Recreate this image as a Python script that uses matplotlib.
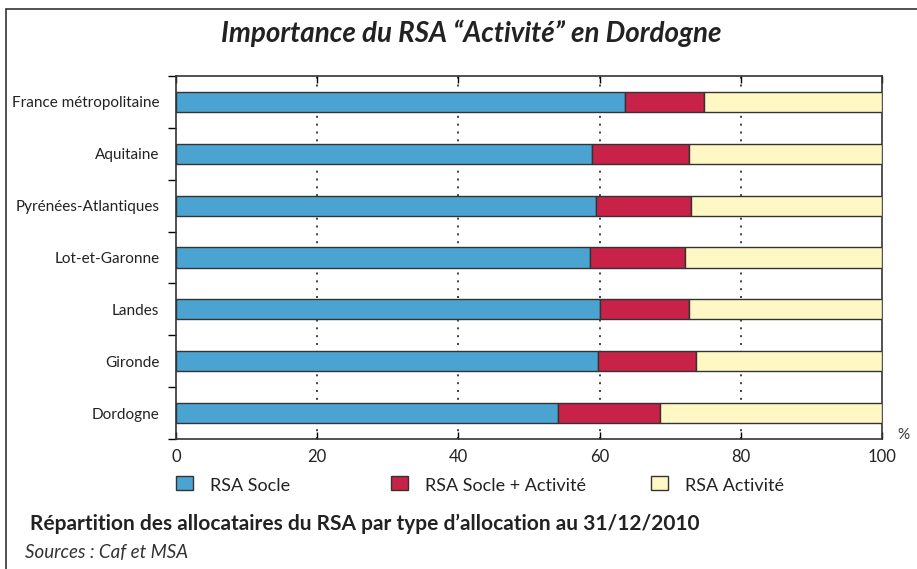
import numpy as np
import matplotlib
matplotlib.use("Agg")
import matplotlib.pyplot as plt
from matplotlib.patches import Rectangle

regions = ["France métropolitaine", "Aquitaine", "Pyrénées-Atlantiques",
           "Lot-et-Garonne", "Landes", "Gironde", "Dordogne"]
socle = [63.6, 58.9, 59.5, 58.6, 60.1, 59.8, 54.1]
socle_act = [11.2, 13.8, 13.5, 13.5, 12.6, 13.8, 14.5]
activite = [100 - a - b for a, b in zip(socle, socle_act)]
series = ["RSA Socle", "RSA Socle + Activité", "RSA Activité"]
colors = ["#4aa3d0", "#c82249", "#fff8c4"]
xticks = [0, 20, 40, 60, 80, 100]

plt.rcParams['font.family'] = ['Lato', 'DejaVu Sans']

fig = plt.figure(figsize=(9.17, 5.69), dpi=100)
ax = fig.add_axes([0.192, 0.2285, 0.7698, 0.6379])

y = np.arange(len(regions))[::-1]
left = np.zeros(len(regions))
for vals, col in zip([socle, socle_act, activite], colors):
    ax.barh(y, vals, left=left, height=0.39, color=col, edgecolor="#333333",
            linewidth=1.0, zorder=3)
    left += np.array(vals)

ax.set_xlim(0, 100)
ax.set_ylim(-0.5, len(regions) - 0.5)
ax.set_xticks(xticks)
ax.set_xticklabels([str(t) for t in xticks], fontsize=12, color="#222222")
ax.tick_params(axis="x", direction="in", top=True, length=5, width=1, pad=7)
ax.set_yticks(y)
ax.set_yticklabels(regions, fontsize=11, color="#222222")
ax.tick_params(axis="y", length=0, pad=12)
ax.set_yticks(np.arange(len(regions) + 1) - 0.5, minor=True)
ax.tick_params(axis="y", which="minor", direction="out", length=6, width=1)
for t in xticks[1:-1]:
    ax.axvline(t, color="#222222", linestyle=(0, (1.2, 3.5)), linewidth=1.2, zorder=1)
for s in ax.spines.values():
    s.set_color("#333333")
    s.set_linewidth(1.2)

fig.text(0.985, 0.228, "%", fontsize=11, color="#333333", ha="center")

fig.text(0.514, 0.942, "Importance du RSA \u201cActivité\u201d en Dordogne",
         fontsize=20, fontweight="bold", style="italic", ha="center",
         va="center", color="#222222")

# legend
lx = [0.192, 0.426, 0.710]
for x0, lab, col in zip(lx, series, colors):
    fig.patches.append(Rectangle((x0, 0.138), 0.019, 0.025, transform=fig.transFigure,
                                 facecolor=col, edgecolor="#333333", linewidth=1))
    fig.text(x0 + 0.037, 0.146, lab, fontsize=13, va="center", color="#222222")

fig.text(0.033, 0.079, "Répartition des allocataires du RSA par type d\u2019allocation au 31/12/2010",
         fontsize=15, fontweight="bold", va="center", color="#222222")
fig.text(0.027, 0.029, "Sources : Caf et MSA", fontsize=13.5, style="italic",
         va="center", color="#333333")

fig.patches.append(Rectangle((0.006, -0.05), 1.1, 1.034, transform=fig.transFigure,
                             fill=False, edgecolor="#333333", linewidth=1.2))

fig.savefig("out.png", dpi=100)
